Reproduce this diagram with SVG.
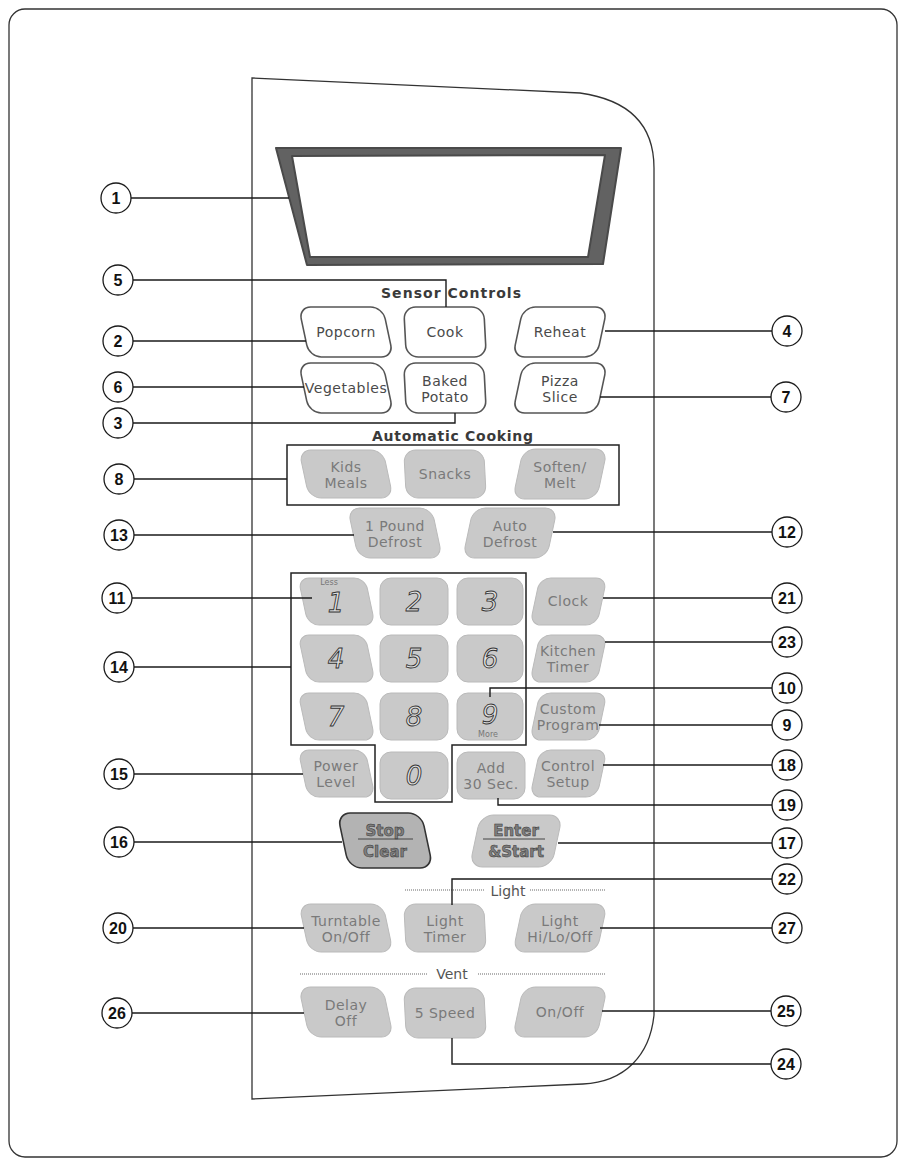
<svg xmlns="http://www.w3.org/2000/svg" width="904" height="1164" viewBox="0 0 904 1164">
<style>
.frame{fill:none;stroke:#333;stroke-width:1.3}
.lead{fill:none;stroke:#1a1a1a;stroke-width:1.4}
.co circle{fill:#fff;stroke:#1a1a1a;stroke-width:1.3}
.co text{font-family:"Liberation Sans",Arial,sans-serif;font-weight:bold;font-size:16px;text-anchor:middle;fill:#111}
.sb{fill:#fff;stroke:#555;stroke-width:1.6}
.gb{fill:#c9c9c9;stroke:#bababa;stroke-width:1}
.db{fill:#b3b3b3;stroke:#333;stroke-width:1.6}
.sl{font-family:"DejaVu Sans",sans-serif;font-size:14px;fill:#4a4a4a;text-anchor:middle;letter-spacing:0.5px}
.gl{font-family:"DejaVu Sans",sans-serif;font-size:14px;fill:#7a7a7a;text-anchor:middle;letter-spacing:0.5px}
.bl{font-family:"DejaVu Sans",sans-serif;font-weight:bold;font-size:15px;fill:#7e7e7e;stroke:#333;stroke-width:0.5;text-anchor:middle}
.dg{font-family:"DejaVu Sans",sans-serif;font-style:italic;font-size:26px;fill:#e2e2e2;stroke:#333;stroke-width:0.9;text-anchor:middle}
.sm{font-family:"DejaVu Sans",sans-serif;font-size:8px;fill:#777;text-anchor:middle}
.hd{font-family:"DejaVu Sans",sans-serif;font-weight:bold;font-size:14px;fill:#3a3a3a}
.lt{font-family:"DejaVu Sans",sans-serif;font-size:14px;fill:#555;text-anchor:middle}
.sep{stroke:#9a9a9a;stroke-width:1.5;stroke-dasharray:1 1;fill:none}
</style>

<rect class="frame" x="9" y="9" width="888" height="1148" rx="16"/>

<g id="panel">
<path class="frame" d="M252,78 L580,93 C630,100 654,125 654,168 L654,1015 C650,1055 625,1082 583,1084 L252,1099 Z"/>
</g>

<g id="display">
<path d="M276,148 L621,148 L603,264 L307,265 Z M292,156 L310,257 L588,257 L605,155 Z" fill="#626262" fill-rule="evenodd" stroke="#4a4a4a" stroke-width="2" stroke-linejoin="round"/>
</g>

<g id="headers">
<text class="hd" x="381" y="298" textLength="140" lengthAdjust="spacing">Sensor Controls</text>
<text class="hd" x="372" y="441" textLength="161" lengthAdjust="spacing">Automatic Cooking</text>
<rect x="287" y="445" width="332" height="60" fill="none" stroke="#222" stroke-width="1.5"/>
<path d="M291,573 H526 V745 H452 V802 H375 V745 H291 Z" fill="none" stroke="#222" stroke-width="1.5"/>
<path class="sep" d="M405,890 H485 M530,890 H605"/>
<text class="lt" x="508" y="896">Light</text>
<path class="sep" d="M300,974 H427 M478,974 H605"/>
<text class="lt" x="452" y="979">Vent</text>
</g>

<g id="btn-popcorn" transform="translate(346,332)"><rect class="sb" x="-42" y="-25" width="84" height="50" rx="12" transform="skewX(12)"/><text class="sl" y="5">Popcorn</text></g>
<g id="btn-cook" transform="translate(445,332)"><rect class="sb" x="-40" y="-25" width="80" height="50" rx="12" transform="skewX(3)"/><text class="sl" y="5">Cook</text></g>
<g id="btn-reheat" transform="translate(560,332)"><rect class="sb" x="-42" y="-25" width="84" height="50" rx="12" transform="skewX(-12)"/><text class="sl" y="5">Reheat</text></g>
<g id="btn-vegetables" transform="translate(346,388)"><rect class="sb" x="-42" y="-25" width="84" height="50" rx="12" transform="skewX(12)"/><text class="sl" y="5">Vegetables</text></g>
<g id="btn-potato" transform="translate(445,388)"><rect class="sb" x="-40" y="-25" width="80" height="50" rx="12" transform="skewX(3)"/><text class="sl" y="-2">Baked</text><text class="sl" y="14">Potato</text></g>
<g id="btn-pizza" transform="translate(560,388)"><rect class="sb" x="-42" y="-25" width="84" height="50" rx="12" transform="skewX(-12)"/><text class="sl" y="-2">Pizza</text><text class="sl" y="14">Slice</text></g>

<g id="btn-kids" transform="translate(346,474)"><rect class="gb" x="-42" y="-24" width="84" height="48" rx="12" transform="skewX(12)"/><text class="gl" y="-2">Kids</text><text class="gl" y="14">Meals</text></g>
<g id="btn-snacks" transform="translate(445,474)"><rect class="gb" x="-40" y="-24" width="80" height="48" rx="12" transform="skewX(3)"/><text class="gl" y="5">Snacks</text></g>
<g id="btn-soften" transform="translate(560,474)"><rect class="gb" x="-42" y="-25" width="84" height="50" rx="12" transform="skewX(-12)"/><text class="gl" y="-2">Soften/</text><text class="gl" y="14">Melt</text></g>

<g id="btn-1lb" transform="translate(395,533)"><rect class="gb" x="-42" y="-25" width="84" height="50" rx="12" transform="skewX(12)"/><text class="gl" y="-2">1 Pound</text><text class="gl" y="14">Defrost</text></g>
<g id="btn-autodef" transform="translate(510,533)"><rect class="gb" x="-42" y="-25" width="84" height="50" rx="12" transform="skewX(-12)"/><text class="gl" y="-2">Auto</text><text class="gl" y="14">Defrost</text></g>

<g id="btn-1" transform="translate(336,601)"><rect class="gb" x="-33" y="-23" width="67" height="47" rx="11" transform="skewX(12)"/><text class="sm" x="-7" y="-16">Less</text><text class="dg" y="11">1</text></g>
<g id="btn-2" transform="translate(414,601)"><rect class="gb" x="-34" y="-23" width="68" height="47" rx="11"/><text class="dg" y="10">2</text></g>
<g id="btn-3" transform="translate(490,601)"><rect class="gb" x="-33" y="-23" width="66" height="47" rx="11"/><text class="dg" y="10">3</text></g>
<g id="btn-clock" transform="translate(568,601)"><rect class="gb" x="-33" y="-23" width="67" height="47" rx="11" transform="skewX(-12)"/><text class="gl" y="5">Clock</text></g>

<g id="btn-4" transform="translate(336,658)"><rect class="gb" x="-33" y="-23" width="67" height="47" rx="11" transform="skewX(12)"/><text class="dg" y="10">4</text></g>
<g id="btn-5" transform="translate(414,658)"><rect class="gb" x="-34" y="-23" width="68" height="47" rx="11"/><text class="dg" y="10">5</text></g>
<g id="btn-6" transform="translate(490,658)"><rect class="gb" x="-33" y="-23" width="66" height="47" rx="11"/><text class="dg" y="10">6</text></g>
<g id="btn-timer" transform="translate(568,658)"><rect class="gb" x="-33" y="-23" width="67" height="47" rx="11" transform="skewX(-12)"/><text class="gl" y="-2">Kitchen</text><text class="gl" y="14">Timer</text></g>

<g id="btn-7" transform="translate(336,716)"><rect class="gb" x="-33" y="-23" width="67" height="47" rx="11" transform="skewX(12)"/><text class="dg" y="10">7</text></g>
<g id="btn-8" transform="translate(414,716)"><rect class="gb" x="-34" y="-23" width="68" height="47" rx="11"/><text class="dg" y="10">8</text></g>
<g id="btn-9" transform="translate(490,716)"><rect class="gb" x="-33" y="-23" width="66" height="47" rx="11"/><text class="dg" y="8">9</text><text class="sm" x="-2" y="21">More</text></g>
<g id="btn-custom" transform="translate(568,716)"><rect class="gb" x="-33" y="-23" width="67" height="47" rx="11" transform="skewX(-12)"/><text class="gl" y="-2">Custom</text><text class="gl" y="14">Program</text></g>

<g id="btn-power" transform="translate(336,773)"><rect class="gb" x="-33" y="-23" width="67" height="47" rx="11" transform="skewX(12)"/><text class="gl" y="-2">Power</text><text class="gl" y="14">Level</text></g>
<g id="btn-0" transform="translate(414,775)"><rect class="gb" x="-34" y="-23" width="68" height="47" rx="11"/><text class="dg" y="10">0</text></g>
<g id="btn-add30" transform="translate(491,775)"><rect class="gb" x="-34" y="-23" width="68" height="47" rx="11"/><text class="gl" y="-2">Add</text><text class="gl" y="14">30 Sec.</text></g>
<g id="btn-setup" transform="translate(568,773)"><rect class="gb" x="-33" y="-23" width="67" height="47" rx="11" transform="skewX(-12)"/><text class="gl" y="-2">Control</text><text class="gl" y="14">Setup</text></g>

<g id="btn-stop" transform="translate(385,840)"><rect class="db" x="-42" y="-27" width="84" height="55" rx="13" transform="skewX(12)"/><text class="bl" y="-4">Stop</text><line x1="-27" y1="-1" x2="28" y2="-1" stroke="#444" stroke-width="1"/><text class="bl" y="17">Clear</text></g>
<g id="btn-enter" transform="translate(516,841)"><rect class="gb" x="-41" y="-26" width="82" height="52" rx="13" transform="skewX(-12)"/><text class="bl" y="-5">Enter</text><line x1="-33" y1="-2" x2="29" y2="-2" stroke="#444" stroke-width="1"/><text class="bl" y="16">&amp;Start</text></g>

<g id="btn-turntable" transform="translate(346,928)"><rect class="gb" x="-42" y="-24" width="84" height="48" rx="12" transform="skewX(12)"/><text class="gl" y="-2">Turntable</text><text class="gl" y="14">On/Off</text></g>
<g id="btn-lighttimer" transform="translate(445,928)"><rect class="gb" x="-40" y="-24" width="80" height="48" rx="12" transform="skewX(3)"/><text class="gl" y="-2">Light</text><text class="gl" y="14">Timer</text></g>
<g id="btn-lighthilo" transform="translate(560,928)"><rect class="gb" x="-42" y="-24" width="84" height="48" rx="12" transform="skewX(-12)"/><text class="gl" y="-2">Light</text><text class="gl" y="14">Hi/Lo/Off</text></g>

<g id="btn-delay" transform="translate(346,1012)"><rect class="gb" x="-42" y="-25" width="84" height="50" rx="12" transform="skewX(12)"/><text class="gl" y="-2">Delay</text><text class="gl" y="14">Off</text></g>
<g id="btn-5speed" transform="translate(445,1013)"><rect class="gb" x="-40" y="-25" width="80" height="50" rx="12" transform="skewX(3)"/><text class="gl" y="5">5 Speed</text></g>
<g id="btn-onoff" transform="translate(560,1012)"><rect class="gb" x="-42" y="-25" width="84" height="50" rx="12" transform="skewX(-12)"/><text class="gl" y="5">On/Off</text></g>

<g id="connectors">
<path class="lead" d="M131,198 H289"/>
<path class="lead" d="M133,280 H446 V307"/>
<path class="lead" d="M133,341 H306"/>
<path class="lead" d="M133,387 H304"/>
<path class="lead" d="M133,423 H455 V413"/>
<path class="lead" d="M605,331 H772"/>
<path class="lead" d="M600,397 H771"/>
<path class="lead" d="M134,479 H287"/>
<path class="lead" d="M134,535 H354"/>
<path class="lead" d="M553,532 H772"/>
<path class="lead" d="M132,598 H312"/>
<path class="lead" d="M134,667 H291"/>
<path class="lead" d="M490,697 V688 H772"/>
<path class="lead" d="M603,598 H772"/>
<path class="lead" d="M605,642 H772"/>
<path class="lead" d="M599,725 H772"/>
<path class="lead" d="M603,765 H772"/>
<path class="lead" d="M134,774 H303"/>
<path class="lead" d="M498,798 V805 H772"/>
<path class="lead" d="M134,842 H342"/>
<path class="lead" d="M558,843 H772"/>
<path class="lead" d="M452,905 V879 H772"/>
<path class="lead" d="M133,928 H304"/>
<path class="lead" d="M600,928 H772"/>
<path class="lead" d="M132,1013 H304"/>
<path class="lead" d="M602,1011 H771"/>
<path class="lead" d="M452,1038 V1064 H771"/>
</g>

<g id="callout-1" class="co"><circle cx="116" cy="198" r="15"/><text x="116" y="204">1</text></g>
<g id="callout-5" class="co"><circle cx="118" cy="280" r="15"/><text x="118" y="286">5</text></g>
<g id="callout-2" class="co"><circle cx="118" cy="341" r="15"/><text x="118" y="347">2</text></g>
<g id="callout-6" class="co"><circle cx="118" cy="387" r="15"/><text x="118" y="393">6</text></g>
<g id="callout-3" class="co"><circle cx="118" cy="423" r="15"/><text x="118" y="429">3</text></g>
<g id="callout-4" class="co"><circle cx="787" cy="331" r="15"/><text x="787" y="337">4</text></g>
<g id="callout-7" class="co"><circle cx="786" cy="397" r="15"/><text x="786" y="403">7</text></g>
<g id="callout-8" class="co"><circle cx="119" cy="479" r="15"/><text x="119" y="485">8</text></g>
<g id="callout-13" class="co"><circle cx="119" cy="535" r="15"/><text x="119" y="541">13</text></g>
<g id="callout-12" class="co"><circle cx="787" cy="532" r="15"/><text x="787" y="538">12</text></g>
<g id="callout-11" class="co"><circle cx="117" cy="598" r="15"/><text x="117" y="604">11</text></g>
<g id="callout-21" class="co"><circle cx="787" cy="598" r="15"/><text x="787" y="604">21</text></g>
<g id="callout-23" class="co"><circle cx="787" cy="642" r="15"/><text x="787" y="648">23</text></g>
<g id="callout-14" class="co"><circle cx="119" cy="667" r="15"/><text x="119" y="673">14</text></g>
<g id="callout-10" class="co"><circle cx="787" cy="688" r="15"/><text x="787" y="694">10</text></g>
<g id="callout-9" class="co"><circle cx="787" cy="725" r="15"/><text x="787" y="731">9</text></g>
<g id="callout-18" class="co"><circle cx="787" cy="765" r="15"/><text x="787" y="771">18</text></g>
<g id="callout-15" class="co"><circle cx="119" cy="774" r="15"/><text x="119" y="780">15</text></g>
<g id="callout-19" class="co"><circle cx="787" cy="805" r="15"/><text x="787" y="811">19</text></g>
<g id="callout-16" class="co"><circle cx="119" cy="842" r="15"/><text x="119" y="848">16</text></g>
<g id="callout-17" class="co"><circle cx="787" cy="843" r="15"/><text x="787" y="849">17</text></g>
<g id="callout-22" class="co"><circle cx="787" cy="879" r="15"/><text x="787" y="885">22</text></g>
<g id="callout-20" class="co"><circle cx="118" cy="928" r="15"/><text x="118" y="934">20</text></g>
<g id="callout-27" class="co"><circle cx="787" cy="928" r="15"/><text x="787" y="934">27</text></g>
<g id="callout-26" class="co"><circle cx="117" cy="1013" r="15"/><text x="117" y="1019">26</text></g>
<g id="callout-25" class="co"><circle cx="786" cy="1011" r="15"/><text x="786" y="1017">25</text></g>
<g id="callout-24" class="co"><circle cx="786" cy="1064" r="15"/><text x="786" y="1070">24</text></g>
</svg>
